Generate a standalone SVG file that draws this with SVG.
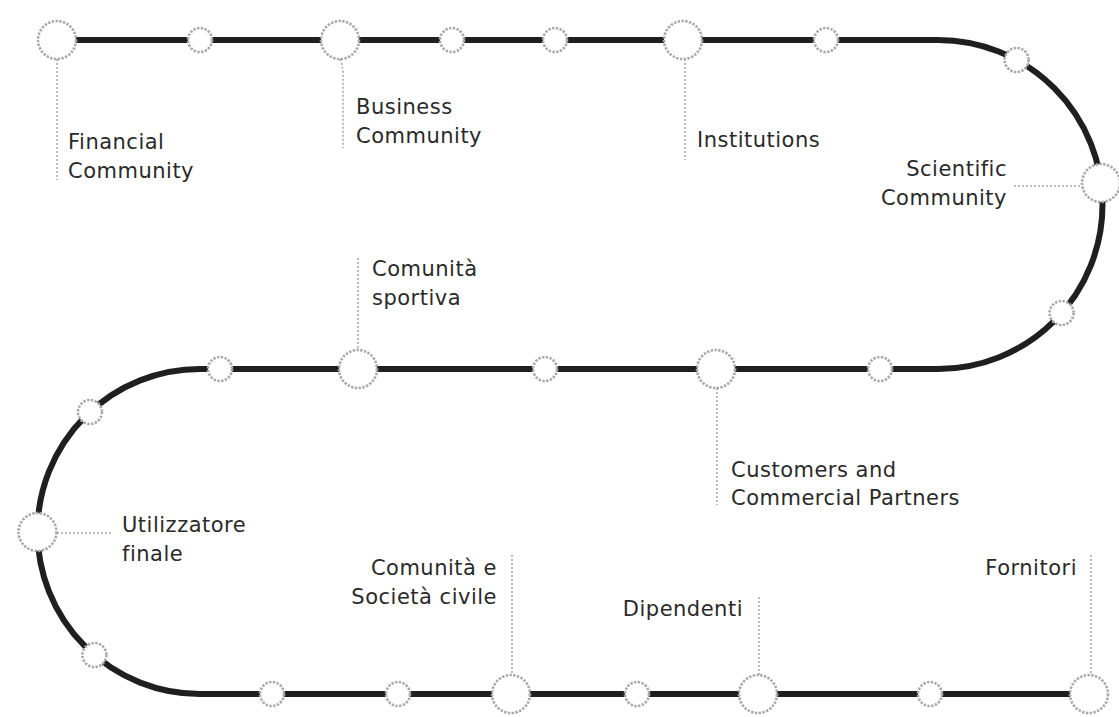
<svg xmlns="http://www.w3.org/2000/svg" width="1119" height="717" viewBox="0 0 1119 717">
  <style>
    .track { fill: none; stroke: #1f1f1f; stroke-width: 6; }
    .leader { fill: none; stroke: #a8a8a8; stroke-width: 1.6; stroke-dasharray: 2 2; }
    .stop { fill: #ffffff; stroke: #a9a9a9; stroke-width: 2.6; stroke-dasharray: 2.4 1.4; }
    .label { font-family: "DejaVu Sans", "Liberation Sans", sans-serif; font-size: 21px; letter-spacing: 0.5px; fill: #2a2a2a; }
    .end { text-anchor: end; }
  </style>
  <rect width="1119" height="717" fill="#ffffff"/>

  <!-- serpentine track and label leaders -->
  <g id="connectors">
    <path class="track" d="M 57 40 H 938 A 164.5 164.5 0 0 1 938 369 H 200 A 162.5 162.5 0 0 0 200 694 H 1090"/>
    <line class="leader" x1="57" y1="59" x2="57" y2="180"/>
    <path class="leader" d="M 340 59 Q 344 70 343 80 V 148"/>
    <line class="leader" x1="685" y1="59" x2="685" y2="160"/>
    <line class="leader" x1="1014" y1="186" x2="1082" y2="186"/>
    <line class="leader" x1="358" y1="258" x2="358" y2="350"/>
    <line class="leader" x1="717" y1="388" x2="717" y2="505"/>
    <line class="leader" x1="57" y1="533" x2="113" y2="533"/>
    <line class="leader" x1="512" y1="555" x2="512" y2="675"/>
    <line class="leader" x1="759" y1="597" x2="759" y2="675"/>
    <line class="leader" x1="1091" y1="555" x2="1091" y2="675"/>
  </g>

  <!-- small waypoints -->
  <g id="waypoints">
    <circle class="stop" cx="200" cy="40" r="12"/>
    <circle class="stop" cx="452" cy="40" r="12"/>
    <circle class="stop" cx="555" cy="40" r="12"/>
    <circle class="stop" cx="826" cy="40" r="12"/>
    <circle class="stop" cx="1016.6" cy="60" r="12"/>
    <circle class="stop" cx="1061.6" cy="313" r="12"/>
    <circle class="stop" cx="880" cy="369" r="12"/>
    <circle class="stop" cx="545" cy="369" r="12"/>
    <circle class="stop" cx="220" cy="369" r="12"/>
    <circle class="stop" cx="90" cy="412" r="12"/>
    <circle class="stop" cx="94.4" cy="655" r="12"/>
    <circle class="stop" cx="272" cy="694" r="12"/>
    <circle class="stop" cx="398" cy="694" r="12"/>
    <circle class="stop" cx="637" cy="694" r="12"/>
    <circle class="stop" cx="930" cy="694" r="12"/>
  </g>

  <g id="financial-community">
    <circle class="stop" cx="57" cy="40" r="19"/>
    <text class="label" x="68" y="149">Financial</text>
    <text class="label" x="68" y="178">Community</text>
  </g>

  <g id="business-community">
    <circle class="stop" cx="340" cy="40" r="19"/>
    <text class="label" x="356" y="114">Business</text>
    <text class="label" x="356" y="143">Community</text>
  </g>

  <g id="institutions">
    <circle class="stop" cx="683" cy="40" r="19"/>
    <text class="label" x="697" y="147">Institutions</text>
  </g>

  <g id="scientific-community">
    <circle class="stop" cx="1101" cy="183" r="19"/>
    <text class="label end" x="1007" y="176">Scientific</text>
    <text class="label end" x="1007" y="205">Community</text>
  </g>

  <g id="comunita-sportiva">
    <circle class="stop" cx="358" cy="369" r="19"/>
    <text class="label" x="372" y="276">Comunità</text>
    <text class="label" x="372" y="305">sportiva</text>
  </g>

  <g id="customers-partners">
    <circle class="stop" cx="716" cy="369" r="19"/>
    <text class="label" x="731" y="477">Customers and</text>
    <text class="label" x="731" y="505">Commercial Partners</text>
  </g>

  <g id="utilizzatore-finale">
    <circle class="stop" cx="37.5" cy="532" r="19"/>
    <text class="label" x="122" y="532">Utilizzatore</text>
    <text class="label" x="122" y="561">finale</text>
  </g>

  <g id="comunita-societa">
    <circle class="stop" cx="511" cy="694" r="19"/>
    <text class="label end" x="497" y="575">Comunità e</text>
    <text class="label end" x="497" y="604">Società civile</text>
  </g>

  <g id="dipendenti">
    <circle class="stop" cx="758" cy="694" r="19"/>
    <text class="label end" x="743" y="616">Dipendenti</text>
  </g>

  <g id="fornitori">
    <circle class="stop" cx="1089" cy="694" r="19"/>
    <text class="label end" x="1077" y="575">Fornitori</text>
  </g>
</svg>
